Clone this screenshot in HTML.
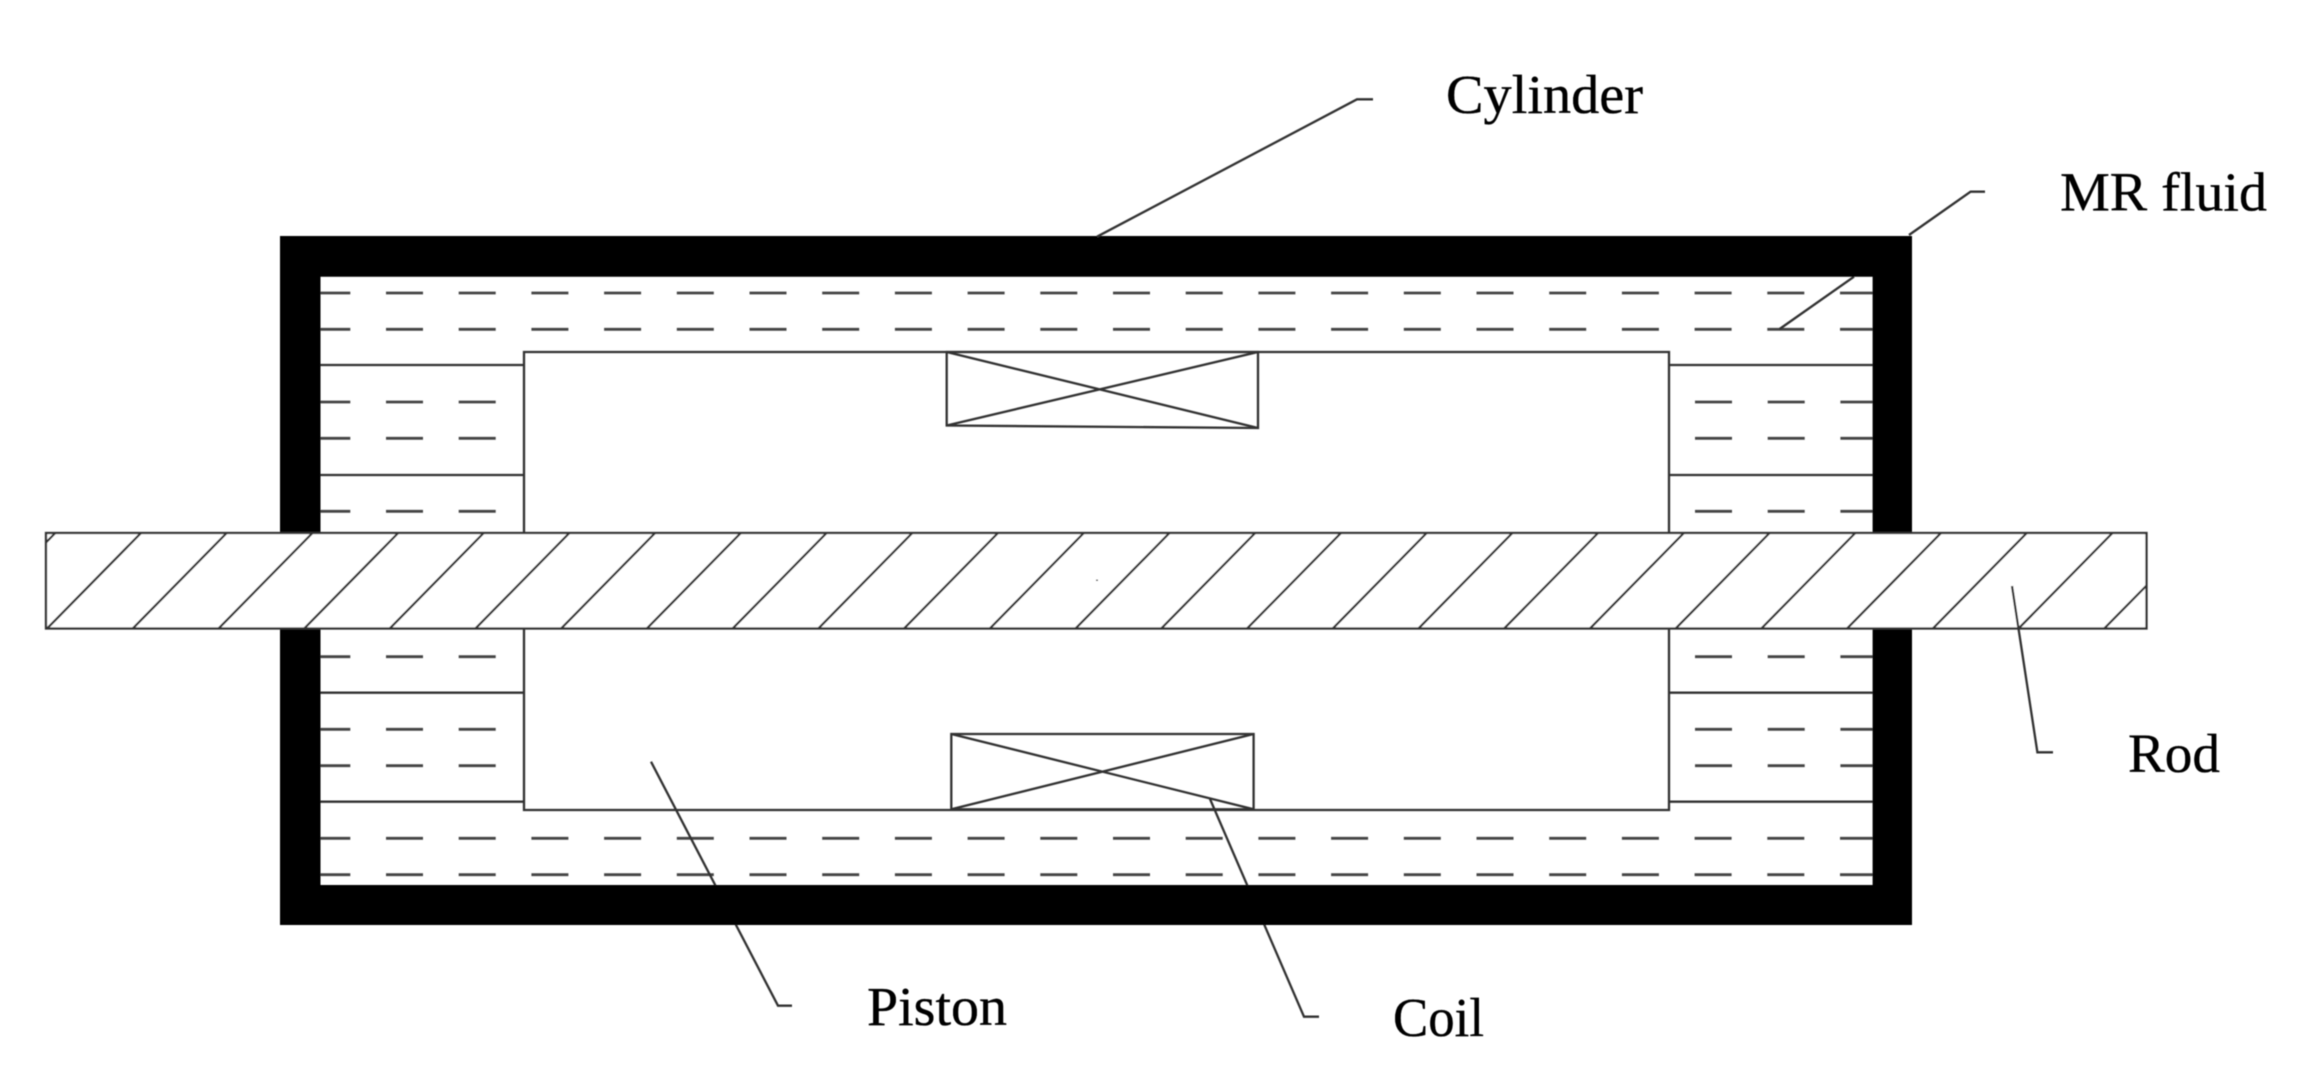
<!DOCTYPE html>
<html>
<head>
<meta charset="utf-8">
<style>
html,body{margin:0;padding:0;background:#fff;width:2322px;height:1082px;overflow:hidden}
svg{display:block}
text{font-family:"Liberation Serif","Times New Roman",serif;font-size:55.5px;fill:#000;stroke:#000;stroke-width:.35px}
</style>
</head>
<body>
<svg width="2322" height="1082" viewBox="0 0 2322 1082" xmlns="http://www.w3.org/2000/svg">
<defs>
<clipPath id="rodclip"><rect x="46" y="533" width="2100.5" height="95.5"/></clipPath>
<filter id="soft" x="-5%" y="-5%" width="110%" height="110%"><feGaussianBlur stdDeviation="0.5"/></filter>
</defs>
<rect width="2322" height="1082" fill="#fff"/>
<g filter="url(#soft)">
<g fill="none" stroke="#444" stroke-width="2.8" stroke-dasharray="37 35.7">
<path d="M313.3 293H1873M313.3 329.3H1873M313.3 838.3H1873M313.3 874.7H1873"/>
<path d="M313.3 402H500M313.3 438.3H500M313.3 511.3H500M313.3 656.7H500M313.3 729.3H500M313.3 765.7H500"/>
<path d="M1695 402H1873M1695 438.3H1873M1695 511.3H1873M1695 656.7H1873M1695 729.3H1873M1695 765.7H1873"/>
</g>
<g fill="none" stroke="#333" stroke-width="2.3">
<path d="M524 352H1669V810H524Z"/>
<path d="M320 365H524M320 475H524M320 692.7H524M320 801.7H524"/>
<path d="M1669 365H1873M1669 475H1873M1669 692.7H1873M1669 801.7H1873"/>
<path d="M946.7 352H1258V428L946.7 425.5Z"/>
<path d="M946.7 352L1258 428M1258 352L946.7 425.5"/>
<path d="M951.3 734H1253.6V809.3H951.3Z"/>
<path d="M951.3 734L1253.6 809.3M1253.6 734L951.3 809.3"/>
<path d="M651 761.7L778 1005.7H792"/>
<path d="M1210 799L1304 1016.7H1319"/>
<path d="M1779.6 329L1854 276.7"/>
</g>
<path fill-rule="evenodd" fill="#000" d="M280 236H1912V925H280ZM320.5 276.7V885H1872.6V276.7Z"/>
<rect x="46" y="533" width="2100.5" height="95.5" fill="#fff" stroke="#333" stroke-width="2.3"/>
<g clip-path="url(#rodclip)" fill="none" stroke="#333" stroke-width="2.3">
<path d="M55.3 533l-94 95.6M141 533l-94 95.6M226.7 533l-94 95.6M312.5 533l-94 95.6M398.2 533l-94 95.6M483.7 533l-94 95.6M569.4 533l-94 95.6M655.1 533l-94 95.6M740.8 533l-94 95.6M826.6 533l-94 95.6M912.3 533l-94 95.6M998 533l-94 95.6M1083.8 533l-94 95.6M1169.5 533l-94 95.6M1255.2 533l-94 95.6M1341 533l-94 95.6M1426.7 533l-94 95.6M1512.4 533l-94 95.6M1598.1 533l-94 95.6M1683.9 533l-94 95.6M1769.6 533l-94 95.6M1855.3 533l-94 95.6M1941 533l-94 95.6M2026.8 533l-94 95.6M2112.5 533l-94 95.6M2198.2 533l-94 95.6"/>
</g>
<rect x="1096" y="579.5" width="2" height="1.5" fill="#555"/>
<g fill="none" stroke="#333" stroke-width="2.3">
<path d="M1097 236.7L1357 99.3H1373"/>
<path d="M1909 235L1970.6 191.7H1985"/>
<path d="M2012 586L2037.4 752.3H2053"/>
</g>
<text x="1446" y="113" textLength="197" lengthAdjust="spacingAndGlyphs">Cylinder</text>
<text x="2060" y="210.7" textLength="207" lengthAdjust="spacingAndGlyphs">MR fluid</text>
<text x="2128" y="772" textLength="92" lengthAdjust="spacingAndGlyphs">Rod</text>
<text x="867" y="1025" textLength="140" lengthAdjust="spacingAndGlyphs">Piston</text>
<text x="1393" y="1036" textLength="91" lengthAdjust="spacingAndGlyphs">Coil</text>
</g>
</svg>
</body>
</html>
